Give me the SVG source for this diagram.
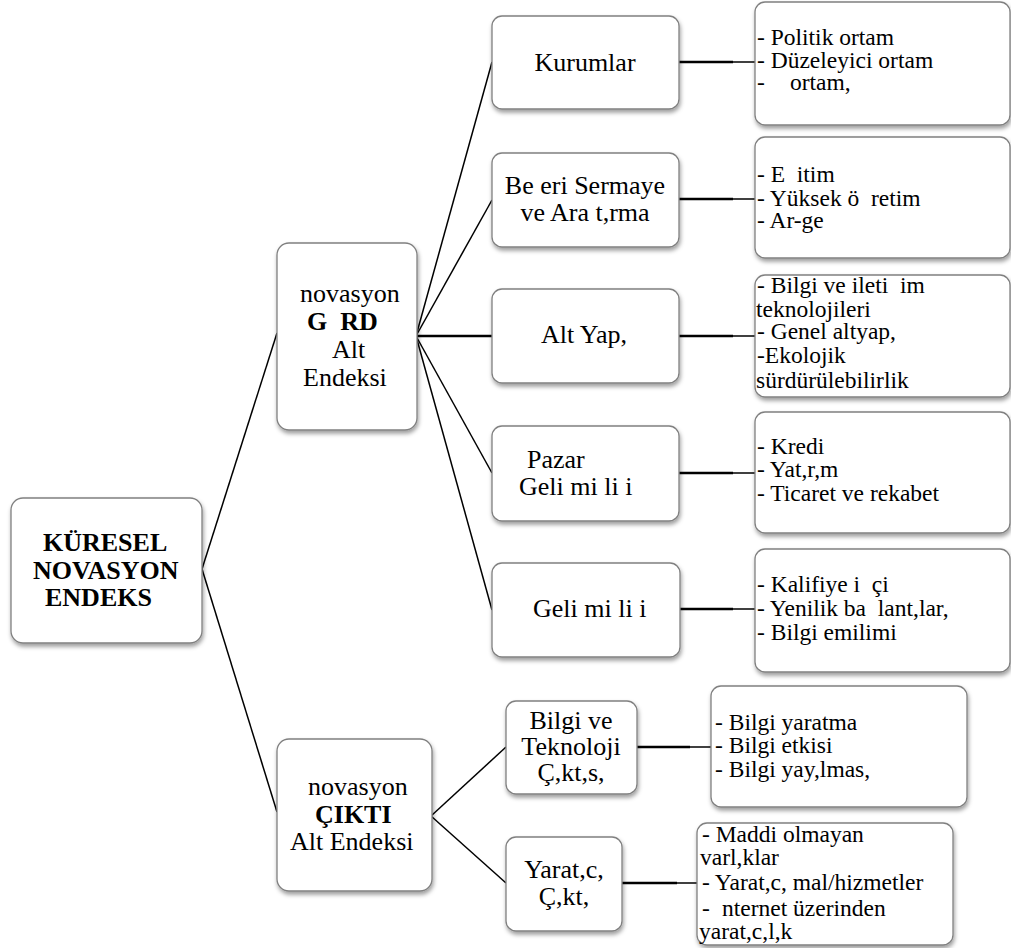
<svg xmlns="http://www.w3.org/2000/svg" width="1011" height="948" viewBox="0 0 1011 948">
<style>
.box{fill:#fff;stroke:#808080;stroke-width:1.3;filter:url(#sh)}
text{font-family:'Liberation Serif','Times New Roman',serif;fill:#000;white-space:pre}
.t{font-size:26px}
.b{font-weight:bold}
.c{text-anchor:middle}
.l{font-size:23.5px}
.ln{stroke:#000;stroke-width:1.5;fill:none}
.th{stroke:#000;stroke-width:2.6;fill:none}
</style>
<defs>
<filter id="sh" x="-10%" y="-10%" width="125%" height="130%">
<feDropShadow dx="1" dy="3" stdDeviation="2" flood-color="#000" flood-opacity="0.38"/>
</filter>
</defs>
<rect width="1011" height="948" fill="#fff"/>
<g id="connectors">
<line class="ln" x1="202" y1="569" x2="277" y2="333"/>
<line class="ln" x1="202" y1="569" x2="277" y2="812"/>
<line class="ln" x1="416" y1="336" x2="492" y2="62"/>
<line class="ln" x1="416" y1="336" x2="492" y2="200"/>
<line class="th" x1="416" y1="336" x2="492" y2="336"/>
<line class="ln" x1="416" y1="336" x2="492" y2="473"/>
<line class="ln" x1="416" y1="336" x2="492" y2="610"/>
<line class="ln" x1="431" y1="816" x2="506" y2="747"/>
<line class="ln" x1="431" y1="816" x2="506" y2="883"/>
<line class="th" x1="679" y1="62" x2="733" y2="62"/><line class="ln" x1="733" y1="62" x2="755" y2="62"/>
<line class="th" x1="679" y1="199" x2="733" y2="199"/><line class="ln" x1="733" y1="199" x2="755" y2="199"/>
<line class="th" x1="679" y1="336" x2="733" y2="336"/><line class="ln" x1="733" y1="336" x2="755" y2="336"/>
<line class="th" x1="679" y1="473" x2="733" y2="473"/><line class="ln" x1="733" y1="473" x2="755" y2="473"/>
<line class="th" x1="680" y1="609" x2="733" y2="609"/><line class="ln" x1="733" y1="609" x2="755" y2="609"/>
<line class="th" x1="637" y1="747" x2="690" y2="747"/><line class="ln" x1="690" y1="747" x2="711" y2="747"/>
<line class="th" x1="622" y1="883" x2="677" y2="883"/><line class="ln" x1="677" y1="883" x2="697" y2="883"/>
</g>
<g id="root">
<rect class="box" x="11" y="498" width="191" height="145" rx="12"/>
<text class="t b" x="43" y="551">KÜRESEL</text>
<text class="t b" x="33" y="579">NOVASYON</text>
<text class="t b" x="45" y="606">ENDEKS</text>
</g>
<g id="girdi">
<rect class="box" x="277" y="243" width="140" height="187" rx="12"/>
<text class="t" x="300" y="302">novasyon</text>
<text class="t b" x="307" y="330">G  RD</text>
<text class="t" x="332" y="358">Alt</text>
<text class="t" x="303" y="386">Endeksi</text>
</g>
<g id="cikti">
<rect class="box" x="277" y="739" width="155" height="152" rx="12"/>
<text class="t" x="308" y="795">novasyon</text>
<text class="t b" x="315" y="823">ÇIKTI</text>
<text class="t" x="290" y="850">Alt Endeksi</text>
</g>
<g id="kurumlar">
<rect class="box" x="492" y="16" width="187" height="93" rx="10"/>
<text class="t c" x="585" y="71">Kurumlar</text>
</g>
<g id="beseri">
<rect class="box" x="492" y="153" width="187" height="94" rx="10"/>
<text class="t c" x="585" y="194">Be eri Sermaye</text>
<text class="t c" x="585" y="221">ve Ara t,rma</text>
</g>
<g id="altyapi">
<rect class="box" x="492" y="289" width="187" height="94" rx="10"/>
<text class="t c" x="584" y="343">Alt Yap,</text>
</g>
<g id="pazar">
<rect class="box" x="492" y="426" width="187" height="95" rx="10"/>
<text class="t" x="527" y="468">Pazar</text>
<text class="t" x="519" y="495">Geli mi li i</text>
</g>
<g id="gelismislik">
<rect class="box" x="492" y="563" width="188" height="94" rx="10"/>
<text class="t" x="533" y="617">Geli mi li i</text>
</g>
<g id="bilgitek">
<rect class="box" x="506" y="701" width="131" height="93" rx="10"/>
<text class="t c" x="571" y="729">Bilgi ve</text>
<text class="t c" x="571" y="755">Teknoloji</text>
<text class="t c" x="571" y="781">Ç,kt,s,</text>
</g>
<g id="yaratici">
<rect class="box" x="506" y="837" width="116" height="94" rx="10"/>
<text class="t c" x="564" y="878">Yarat,c,</text>
<text class="t c" x="564" y="905">Ç,kt,</text>
</g>
<g id="leaf1">
<rect class="box" x="755" y="2" width="255" height="123" rx="10"/>
<text class="l" x="757" y="45">- Politik ortam</text>
<text class="l" x="757" y="68">- Düzeleyici ortam</text>
<text class="l" x="757" y="90">-<tspan x="790">ortam,</tspan></text>
</g>
<g id="leaf2">
<rect class="box" x="755" y="137" width="255" height="121" rx="10"/>
<text class="l" x="757" y="182">- E  itim</text>
<text class="l" x="757" y="206">- Yüksek ö  retim</text>
<text class="l" x="757" y="228">- Ar-ge</text>
</g>
<g id="leaf3">
<rect class="box" x="755" y="275" width="255" height="122" rx="10"/>
<text class="l" x="757" y="293">- Bilgi ve ileti  im</text>
<text class="l" x="756" y="317">teknolojileri</text>
<text class="l" x="757" y="339">- Genel altyap,</text>
<text class="l" x="757" y="363">-Ekolojik</text>
<text class="l" x="756" y="388">sürdürülebilirlik</text>
</g>
<g id="leaf4">
<rect class="box" x="755" y="412" width="255" height="121" rx="10"/>
<text class="l" x="757" y="454">- Kredi</text>
<text class="l" x="757" y="477">- Yat,r,m</text>
<text class="l" x="757" y="501">- Ticaret ve rekabet</text>
</g>
<g id="leaf5">
<rect class="box" x="755" y="549" width="255" height="123" rx="10"/>
<text class="l" x="757" y="592">- Kalifiye i  çi</text>
<text class="l" x="757" y="616">- Yenilik ba  lant,lar,</text>
<text class="l" x="757" y="640">- Bilgi emilimi</text>
</g>
<g id="leaf6">
<rect class="box" x="711" y="686" width="256" height="121" rx="10"/>
<text class="l" x="715" y="730">- Bilgi yaratma</text>
<text class="l" x="715" y="753">- Bilgi etkisi</text>
<text class="l" x="715" y="777">- Bilgi yay,lmas,</text>
</g>
<g id="leaf7">
<rect class="box" x="697" y="823" width="256" height="122" rx="10"/>
<text class="l" x="702" y="842">- Maddi olmayan</text>
<text class="l" x="700" y="865">varl,klar</text>
<text class="l" x="702" y="890">- Yarat,c, mal/hizmetler</text>
<text class="l" x="702" y="916">-<tspan x="722">nternet üzerinden</tspan></text>
<text class="l" x="699" y="939">yarat,c,l,k</text>
</g>
</svg>
